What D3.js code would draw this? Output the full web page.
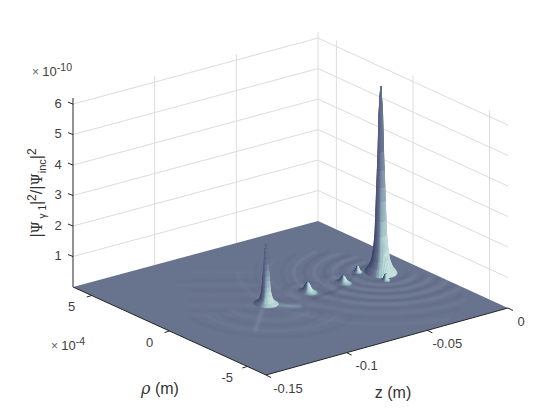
<!DOCTYPE html>
<html lang="en">
<head>
	<meta charset="utf-8">
	<title>Surface</title>
	<script src="https://cdn.jsdelivr.net/npm/d3@7"></script>
	<style>
		body { margin: 0; background: #fff; }
		svg { display: block; font-family: "Liberation Sans", Arial, sans-serif; }
	</style>
</head>
<body>
<div id="chart"></div>
<script type="text/javascript">
	// axis limits and ticks
	var zLim = [-0.15, 0];
	var rhoLim = [-6.2, 6.2];
	var hLim = [0, 6.2];
	var zTicks = [-0.15, -0.1, -0.05, 0];
	var zTickLabels = ["-0.15", "-0.1", "-0.05", "0"];
	var rhoTicks = [-5, 0, 5];
	var hTicks = [1, 2, 3, 4, 5, 6];

	// peaks (z in m, rho in 1e-4 m, height in 1e-10)
	var peakZ = [-0.0189, -0.0895, -0.0635, -0.042, -0.0275, -0.0235];
	var peakRho = [0.1, 0.1, 0.15, 0.1, 0.7, -0.7];
	var peakHeight = [6.1, 1.98, 0.3, 0.22, 0.2, 0.2];
	var peakSpreadZ = [0.0075, 0.0058, 0.0042, 0.0036, 0.002, 0.002];
	var peakSpreadRho = [0.72, 0.52, 0.46, 0.4, 0.2, 0.2];
	var peakRounded = [false, false, true, true, true, true];
	// cross sections, radius and height as fractions
	var profileRadius = [0, 0.03, 0.07, 0.11, 0.14, 0.17, 0.21, 0.25, 0.28, 0.32, 0.36, 0.45, 0.55, 0.7, 0.88, 1];
	var cuspHeight = [1, 0.96, 0.91, 0.85, 0.75, 0.65, 0.55, 0.46, 0.385, 0.28, 0.2, 0.12, 0.07, 0.035, 0.015, 0];
	var bumpHeight = [1, 0.99, 0.96, 0.92, 0.88, 0.84, 0.76, 0.68, 0.62, 0.54, 0.46, 0.32, 0.2, 0.1, 0.03, 0];

	// floor ripples as ellipse arcs
	var rippleZ = [
		-0.0189, -0.0189, -0.0189, -0.0189, -0.0189, -0.0189, -0.0189, -0.0189, -0.0189, -0.0189,
		-0.0189, -0.0189, -0.0895, -0.0895, -0.0895, -0.0895, -0.0895, -0.0635, -0.0635, -0.042, -0.042
	];
	var rippleRho = [
		0, 0, 0, 0, 0, 0, 0, 0, 0, 0,
		0, 0, 0, 0, 0, 0, 0, 0, 0, 0, 0
	];
	var rippleRadiusZ = [
		0.012, 0.016, 0.02, 0.024, 0.028, 0.033, 0.038, 0.043, 0.049, 0.055,
		0.062, 0.07, 0.014, 0.02, 0.027, 0.034, 0.042, 0.009, 0.013, 0.008, 0.012
	];
	var rippleRadiusRho = [
		1.0, 1.35, 1.7, 2.0, 2.35, 2.75, 3.15, 3.55, 4.05, 4.55,
		5.1, 5.8, 1.3, 1.9, 2.5, 3.1, 3.8, 0.85, 1.2, 0.75, 1.1
	];
	var rippleFrom = [
		80, 80, 80, 80, 85, 90, 95, 100, 110, 120,
		130, 140, 170, 170, 170, 170, 170, 20, 20, 20, 20
	];
	var rippleTo = [
		330, 325, 320, 315, 310, 305, 300, 295, 285, 280,
		270, 260, 300, 300, 300, 300, 300, 200, 200, 200, 200
	];

	// fine streaks left of the second peak
	var streakZ1 = [-0.1285, -0.1243, -0.1201, -0.1158, -0.1116, -0.1074, -0.1089, -0.0989, -0.0921];
	var streakRho1 = [0.9, 1.34, 1.78, 2.22, 2.66, 3.1, 3.9, 3.98, 4.68];
	var streakZ2 = [-0.0707, -0.0665, -0.0623, -0.058, -0.0691, -0.0765, -0.0761, -0.0757, -0.067];
	var streakRho2 = [-2.74, -2.3, -1.86, -1.42, -0.01, 1.16, 1.84, 2.52, 3.1];

	// pale ridge and smear by the second peak, dark creases by the bumps
	var paleRidgeZ = [-0.0876, -0.0843, -0.0785];
	var paleRidgeRho = [-0.12, -0.61, -0.98];
	var paleSmearZ = [-0.0966, -0.1162];
	var paleSmearRho = [-0.4, -2.0];
	var darkCreaseZ = [-0.0671, -0.056, -0.0434, -0.0286];
	var darkCreaseRho = [-0.57, -0.56, -0.23, 0.67];
	var upperCreaseZ = [-0.0366, -0.0224, -0.0144];
	var upperCreaseRho = [0.48, 0.99, 1.05];

	var width = 560, height = 420;

	var svg = d3.select("#chart").append("svg")
		.attr("width", width)
		.attr("height", height);

	var defs = svg.append("defs");
	defs.append("filter").attr("id", "soft").attr("x", "-5%").attr("y", "-5%").attr("width", "110%").attr("height", "110%")
		.append("feGaussianBlur").attr("stdDeviation", 0.8);
	defs.append("filter").attr("id", "softer").attr("x", "-20%").attr("y", "-5%").attr("width", "140%").attr("height", "110%")
		.append("feGaussianBlur").attr("stdDeviation", 0.45);

	var aScale = d3.scaleLinear().domain(zLim).range([0, 1]);
	var bScale = d3.scaleLinear().domain(rhoLim).range([0, 1]);
	var hScale = d3.scaleLinear().domain(hLim).range([0, -189]);

	// floor corners on the page
	var cFront = [266, 375], cRight = [508, 308], cLeft = [73, 287], cBack = [318, 221];

	function project(z, rho, h) {
		var a = aScale(z), b = bScale(rho);
		var out = [0, 1].map(function(k) {
			return (1 - a) * (1 - b) * cFront[k] + a * (1 - b) * cRight[k] + (1 - a) * b * cLeft[k] + a * b * cBack[k];
		});
		out[1] += hScale(h || 0);
		return out;
	}

	var gridColor = "#dcdcdc", axisColor = "#262626", textColor = "#404040";

	// walls
	var grid = svg.append("g").attr("fill", "none").attr("stroke", gridColor).attr("stroke-width", 1);
	var line = d3.line();
	var smooth = d3.line().curve(d3.curveBasis);
	hTicks.forEach(function(t) {
		grid.append("path").attr("d", line([
			project(zLim[0], rhoLim[1], t), project(zLim[1], rhoLim[1], t), project(zLim[1], rhoLim[0], t)
		]));
	});
	zTicks.slice(1).forEach(function(t) {
		grid.append("path").attr("d", line([project(t, rhoLim[1], 0), project(t, rhoLim[1], hLim[1])]));
	});
	rhoTicks.forEach(function(t) {
		grid.append("path").attr("d", line([project(zLim[1], t, 0), project(zLim[1], t, hLim[1])]));
	});

	// floor
	var floorPath = line([project(zLim[0], rhoLim[0]), project(zLim[1], rhoLim[0]), project(zLim[1], rhoLim[1]), project(zLim[0], rhoLim[1])]) + "Z";
	svg.append("path").attr("d", floorPath).attr("fill", "#68738d");
	defs.append("clipPath").attr("id", "floorClip").append("path").attr("d", floorPath);

	// ripples
	var floorRipples = svg.append("g").attr("clip-path", "url(#floorClip)")
		.append("g").attr("fill", "none").attr("filter", "url(#soft)");
	rippleZ.forEach(function(cz, i) {
		var pts = d3.range(rippleFrom[i], rippleTo[i] + 1, 5).map(function(deg) {
			var t = deg * Math.PI / 180;
			return project(cz + rippleRadiusZ[i] * Math.cos(t), rippleRho[i] + rippleRadiusRho[i] * Math.sin(t));
		});
		floorRipples.append("path")
			.attr("d", smooth(pts))
			.attr("stroke", i % 2 ? "#98a2b8" : "#465070")
			.attr("stroke-opacity", i < 8 ? 0.4 : i < 12 ? 0.2 : 0.22)
			.attr("stroke-width", 1.3);
	});
	streakZ1.forEach(function(z1, i) {
		floorRipples.append("path")
			.attr("d", line([project(z1, streakRho1[i]), project(streakZ2[i], streakRho2[i])]))
			.attr("stroke", i % 2 ? "#525d7a" : "#808ba4")
			.attr("stroke-opacity", 0.28)
			.attr("stroke-width", 1);
	});

	function crease(zs, rhos, color, w, op) {
		floorRipples.append("path")
			.attr("d", smooth(zs.map(function(z, i) { return project(z, rhos[i]); })))
			.attr("stroke", color)
			.attr("stroke-opacity", op)
			.attr("stroke-width", w)
			.attr("stroke-linecap", "round");
	}
	crease(paleRidgeZ, paleRidgeRho, "#a9c4cb", 1.6, 0.7);
	crease(paleSmearZ, paleSmearRho, "#8794ac", 4, 0.4);
	crease(darkCreaseZ, darkCreaseRho, "#454e6e", 1.6, 0.6);
	crease(upperCreaseZ, upperCreaseRho, "#454e6e", 1.6, 0.5);

	// peaks as polar meshes, lit from the viewer's side
	var shade = d3.scaleLinear()
		.domain([-1, -0.4, 0.3, 0.62, 1])
		.range(["#343a62", "#444c72", "#68738d", "#a8d0d0", "#d0ece6"]);
	var topTint = d3.scaleLinear().domain([0.12, 0.7]).range([0, 0.85]).clamp(true);
	var light = [0.2, -0.9, 0.3];
	var sectors = d3.range(0, 360, 10);
	var facets = [];

	function scene(z, rho, h) {
		// page-sized units so that the normals are sensible
		return [aScale(z) * 250, bScale(rho) * 210, h * 30.5];
	}

	peakZ.forEach(function(cz, p) {
		var profile = peakRounded[p] ? bumpHeight : cuspHeight;
		function vertex(deg, r) {
			var t = deg * Math.PI / 180;
			return {
				z: cz + profileRadius[r] * peakSpreadZ[p] * Math.cos(t),
				rho: peakRho[p] + profileRadius[r] * peakSpreadRho[p] * Math.sin(t),
				h: profile[r] * peakHeight[p],
				f: peakRounded[p] ? 0 : profile[r]
			};
		}
		profileRadius.slice(1).forEach(function(_, r) {
			sectors.forEach(function(deg) {
				var v = [vertex(deg, r), vertex(deg + 10, r), vertex(deg + 10, r + 1), vertex(deg, r + 1)];
				var s = v.map(function(d) { return scene(d.z, d.rho, d.h); });
				var u1 = [s[2][0] - s[0][0], s[2][1] - s[0][1], s[2][2] - s[0][2]];
				var u2 = [s[3][0] - s[1][0], s[3][1] - s[1][1], s[3][2] - s[1][2]];
				var n = [u1[1] * u2[2] - u1[2] * u2[1], u1[2] * u2[0] - u1[0] * u2[2], u1[0] * u2[1] - u1[1] * u2[0]];
				if (n[2] < 0) n = n.map(function(c) { return -c; });
				var len = Math.hypot(n[0], n[1], n[2]) || 1;
				var tone = (n[0] * light[0] + n[1] * light[1] + n[2] * light[2]) / len;
				facets.push({
					pts: v.map(function(d) { return project(d.z, d.rho, d.h); }),
					depth: d3.mean(s, function(c) { return c[0] + c[1]; }),
					color: d3.interpolateRgb(shade(tone), "#5a6486")(topTint(d3.mean(v, function(d) { return d.f; })))
				});
			});
		});
	});
	facets.sort(function(a, b) { return b.depth - a.depth; });

	svg.append("g").attr("filter", "url(#softer)").selectAll("path")
		.data(facets)
		.enter().append("path")
		.attr("d", function(d) { return line(d.pts) + "Z"; })
		.attr("fill", function(d) { return d.color; })
		.attr("stroke", function(d) { return d.color; })
		.attr("stroke-width", 0.3);

	// axes
	var axes = svg.append("g").attr("fill", "none").attr("stroke", axisColor).attr("stroke-width", 1);
	axes.append("path").attr("d", line([project(zLim[0], rhoLim[1], hLim[1]), project(zLim[0], rhoLim[1], 0), project(zLim[0], rhoLim[0], 0), project(zLim[1], rhoLim[0], 0)]));

	function tickAt(p, dx, dy) {
		axes.append("path").attr("d", line([p, [p[0] + dx, p[1] + dy]]));
	}

	var labels = svg.append("g").attr("fill", textColor).attr("font-size", 13).attr("text-anchor", "middle");

	function label(p, dx, dy, s) {
		return labels.append("text").attr("x", p[0] + dx).attr("y", p[1] + dy).attr("dy", "0.35em").text(s);
	}

	hTicks.forEach(function(t) {
		var p = project(zLim[0], rhoLim[1], t);
		tickAt(p, -5, -2);
		label(p, -15, -1, t);
	});
	rhoTicks.forEach(function(t) {
		var p = project(zLim[0], t, 0);
		tickAt(p, -5, 1.5);
		label(p, -20, 11, t);
	});
	zTicks.forEach(function(t, i) {
		var p = project(t, rhoLim[0], 0);
		tickAt(p, 5, 2.5);
		label(p, i == 0 ? 22 : i == 3 ? 13 : 20, 13, zTickLabels[i]);
	});

	// exponents
	function exponent(x, y, power) {
		var t = labels.append("text").attr("x", x).attr("y", y).attr("text-anchor", "start");
		t.append("tspan").attr("font-size", 12).attr("fill", "#666").text("\u00d7 ");
		t.append("tspan").text("10");
		t.append("tspan").attr("font-size", 10.5).attr("dy", -5).text(power);
	}
	exponent(32, 76, "-10");
	exponent(51, 350, "-4");

	// axis titles
	var names = svg.append("g").attr("fill", "#333").attr("font-size", 16);
	var rhoName = names.append("text").attr("x", 160).attr("y", 394).attr("text-anchor", "middle");
	rhoName.append("tspan").attr("font-family", "'DejaVu Serif'").attr("font-style", "italic").text("\u03c1");
	rhoName.append("tspan").text(" (m)");
	names.append("text").attr("x", 393).attr("y", 398).attr("text-anchor", "middle").text("z (m)");

	var yName = names.append("text").attr("text-anchor", "middle")
		.attr("transform", "translate(42,193) rotate(-90)");
	yName.append("tspan").text("|");
	yName.append("tspan").attr("font-family", "'DejaVu Serif'").attr("font-size", 14).text("\u03a8");
	yName.append("tspan").attr("font-size", 10).attr("dy", 4).text(" \u03b3 1");
	yName.append("tspan").attr("dy", -4).text("|");
	yName.append("tspan").attr("font-size", 12).attr("dy", -6).text("2");
	yName.append("tspan").attr("dy", 6).text("/|");
	yName.append("tspan").attr("font-family", "'DejaVu Serif'").attr("font-size", 14).text("\u03a8");
	yName.append("tspan").attr("font-size", 11).attr("dy", 4).text("inc");
	yName.append("tspan").attr("dy", -4).text("|");
	yName.append("tspan").attr("font-size", 12).attr("dy", -6).text("2");
</script>
</body>
</html>
